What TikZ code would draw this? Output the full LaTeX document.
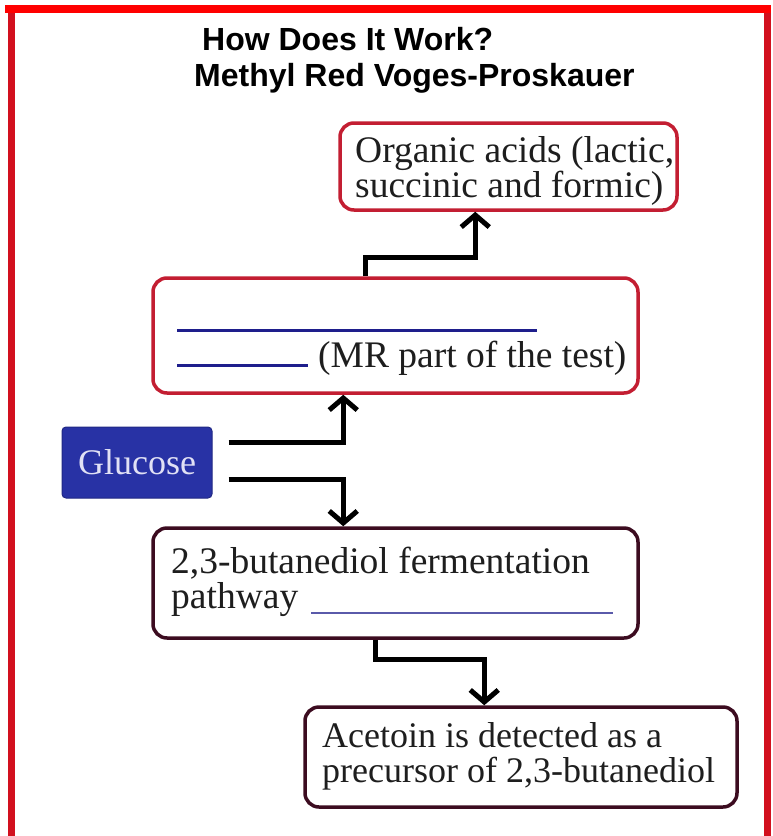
\documentclass[tikz,border=0pt]{standalone}
\usepackage{fontspec}
\setmainfont{Liberation Serif}
\newfontfamily\titlefont{Liberation Sans}
\usetikzlibrary{arrows.meta,calc}
\definecolor{framered}{RGB}{255,0,0}
\definecolor{sidered}{RGB}{210,16,30}
\definecolor{boxred}{RGB}{195,30,50}
\definecolor{boxdark}{RGB}{60,12,32}
\definecolor{glufill}{RGB}{40,50,165}
\definecolor{glutext}{RGB}{225,225,245}
\definecolor{navyline}{RGB}{30,30,140}
\definecolor{thinblue}{RGB}{90,90,170}
\definecolor{txtgray}{RGB}{30,30,30}
\tikzset{
  rbox/.style={draw=boxred, line width=3.5pt, rounded corners=14pt, fill=white, inner sep=0pt},
  dbox/.style={draw=boxdark, line width=3.5pt, rounded corners=14pt, fill=white, inner sep=0pt},
  txt/.style={inner sep=0pt, align=left, text=txtgray, anchor=base west, font=\fontsize{37.5}{35}\selectfont},
  ttl/.style={inner sep=0pt, anchor=base west, font=\titlefont\bfseries\fontsize{32}{32}\selectfont},
  arr/.style={draw=black, line width=5pt, -{Straight Barb[length=12pt,width=28pt]}}
}
\begin{document}
\begin{tikzpicture}[x=1pt,y=-1pt]
\useasboundingbox (0,0) rectangle (773,836);
\fill[white] (0,0) rectangle (773,836);
% frame
\fill[framered] (5,5) rectangle (771,13);
\fill[sidered] (8,13) rectangle (15,836);
\fill[sidered] (764,13) rectangle (771,836);
% title
\node[ttl] (t1) at (202,50) {How Does It Work?};
\node[ttl] (t2) at (194,86) {Methyl Red Voges-Proskauer};
% boxes
\node[rbox, minimum width=337pt, minimum height=87pt] (orgbox) at (508.5,166.5) {};
\node[txt] (orgtxt) at (355,197) {Organic acids (lactic,\\succinic and formic)};
\node[rbox, minimum width=485pt, minimum height=115pt] (mrbox) at (395.5,335.5) {};
\node[txt] (mrtxt) at (177,367) {{\color{navyline}\rule{360pt}{3.5pt}}\\{\color{navyline}\rule{131pt}{3.5pt}}\hspace{10pt}(MR part of the test)};
\node[draw=glufill!80!black, line width=1pt, fill=glufill, rounded corners=4pt, minimum width=150pt, minimum height=71pt, inner sep=0pt, text=glutext, font=\fontsize{36}{36}\selectfont] (glu) at (137,462.5) {Glucose};
\node[dbox, minimum width=485pt, minimum height=110pt] (butbox) at (395.5,583) {};
\node[txt] (buttxt) at (171,608) {2,3-butanediol fermentation\\pathway\hspace{13pt}{\color{thinblue}\rule[-6pt]{302pt}{1.8pt}}};
\node[dbox, minimum width=432pt, minimum height=100pt] (acebox) at (521,757) {};
\node[txt, font=\fontsize{36}{35}\selectfont] (acetxt) at (322,782) {Acetoin is detected as a\\precursor of 2,3-butanediol};
% connectors
\draw[arr] ([xshift=214pt]mrbox.north west) -- ++(0,-19) -| ([xshift=137pt]orgbox.south west);
\draw[arr] ([xshift=16pt,yshift=20pt]glu.east) -| ([xshift=192pt]mrbox.south west);
\draw[arr] ([xshift=16pt,yshift=-17pt]glu.east) -| ([xshift=192pt]butbox.north west);
\draw[arr] ([xshift=224pt]butbox.south west) -- ++(0,20) -| ([xshift=181pt]acebox.north west);
\end{tikzpicture}
\end{document}
